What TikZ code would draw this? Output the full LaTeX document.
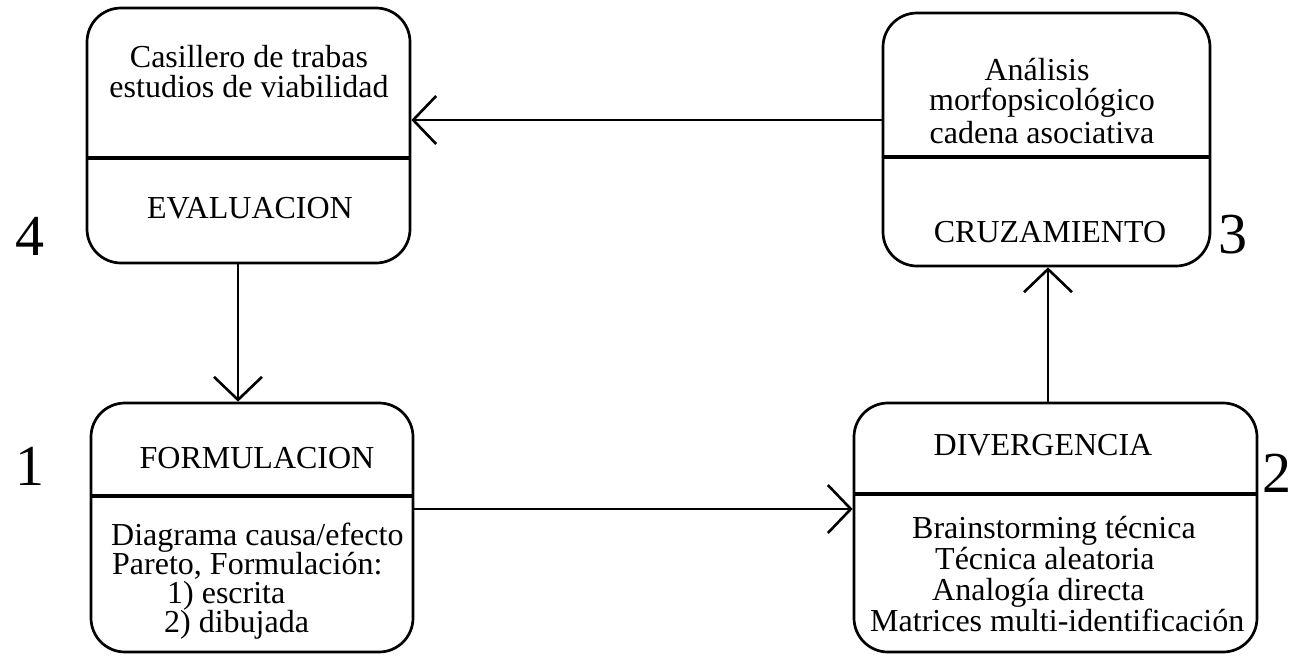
\documentclass[tikz,border=0pt]{standalone}
\usepackage{fontspec}
\setmainfont{Liberation Serif}
\usetikzlibrary{arrows.meta}
\begin{document}
\begin{tikzpicture}[x=1pt,y=-1pt,
  box/.style={draw, line width=2.7pt, rounded corners=34pt, inner sep=0pt},
  divline/.style={line width=3.4pt},
  arr/.style={line width=2.6pt, -{Straight Barb[length=23pt,width=48pt,line width=2.6pt]}},
  txt/.style={font=\fontsize{32}{32}\selectfont, inner sep=0pt, anchor=base},
  txtl/.style={font=\fontsize{32}{32}\selectfont, inner sep=0pt, anchor=base west},
  num/.style={font=\fontsize{58}{58}\selectfont, inner sep=0pt, anchor=base}]
\useasboundingbox (0,0) rectangle (1304,654);
% boxes
\node[box, minimum width=323pt, minimum height=255pt] (b4) at (248.5,135.5) {};
\node[box, minimum width=327pt, minimum height=253pt] (b3) at (1046.5,139.5) {};
\node[box, minimum width=322pt, minimum height=249pt] (b1) at (252,527.5) {};
\node[box, minimum width=403pt, minimum height=249pt] (b2) at (1055.5,527.5) {};
% dividers
\draw[divline] (b4.west |- 0,158) -- (b4.east |- 0,158);
\draw[divline] (b3.west |- 0,157) -- (b3.east |- 0,157);
\draw[divline] (b1.west |- 0,496) -- (b1.east |- 0,496);
\draw[divline] (b2.west |- 0,494) -- (b2.east |- 0,494);
% arrows
\draw[arr] (b3.west |- 0,120) -- (b4.east |- 0,120);
\draw[arr] (b4.south -| 238,0) -- (b1.north -| 238,0);
\draw[arr] (b1.east |- 0,509) -- (b2.west |- 0,509);
\draw[arr] (b2.north -| 1048,0) -- (b3.south -| 1048,0);
% box 4 text
\node[txt] (t4a) at (249,67) {Casillero de trabas};
\node[txt] (t4b) at (249,97) {estudios de viabilidad};
\node[txt] (t4c) at (250,218) {EVALUACION};
% box 3 text
\node[txt] (t3a) at (1037,80) {Análisis};
\node[txt] (t3b) at (1042,110) {morfopsicológico};
\node[txt] (t3c) at (1042,143) {cadena asociativa};
\node[txt] (t3d) at (1050,242) {CRUZAMIENTO};
% box 1 text
\node[txt] (t1a) at (257,468) {FORMULACION};
\node[txtl] (t1b) at (111,545) {\vtop{\baselineskip=29pt\lineskiplimit=-100pt
  \hbox{Diagrama causa/efecto}\hbox{\kern1pt Pareto, Formulación:}%
  \hbox{\kern56pt 1) escrita}\hbox{\kern53pt 2) dibujada}}};
% box 2 text
\node[txt] (t2a) at (1043,455) {DIVERGENCIA};
\node[txtl] (t2b) at (870,538) {\vtop{\baselineskip=31.3pt\lineskiplimit=-100pt
  \hbox{\kern42pt Brainstorming técnica}\hbox{\kern65pt Técnica aleatoria}%
  \hbox{\kern62pt Analogía directa}\hbox{Matrices multi-identificación}}};
% numbers
\node[num] (n4) at (30,255) {4};
\node[num] (n3) at (1233,253) {3};
\node[num] (n1) at (30,485) {1};
\node[num] (n2) at (1277,492) {2};
\end{tikzpicture}
\end{document}
